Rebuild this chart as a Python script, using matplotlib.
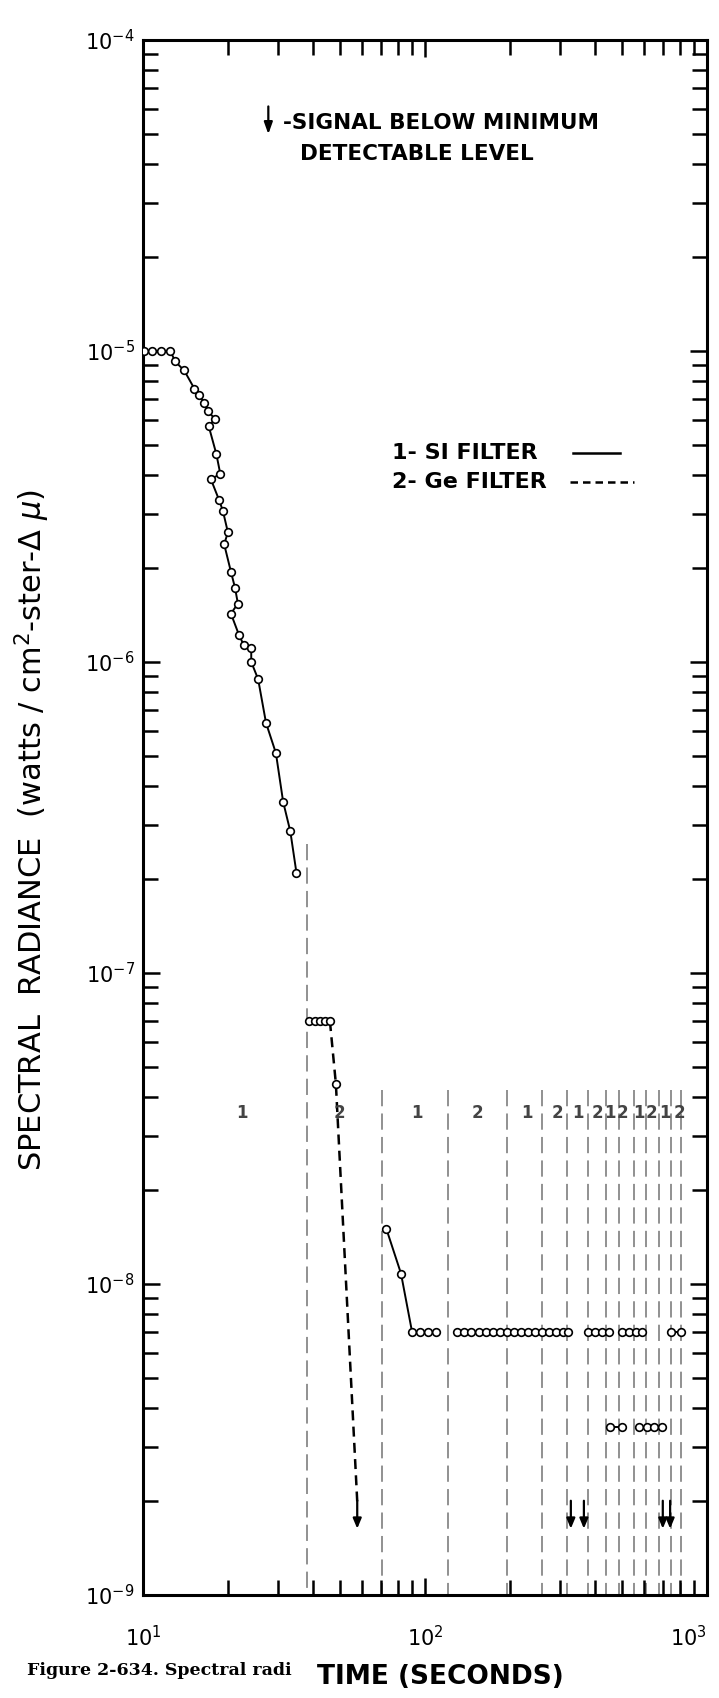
import matplotlib
matplotlib.use("Agg")
import matplotlib.pyplot as plt
from matplotlib.ticker import LogLocator, NullFormatter

# Si filter, first run (time s, radiance)
si1_t = [10.1, 10.8, 11.6, 12.5, 13.0, 14.0, 15.2, 15.8, 16.5, 17.0, 18.0, 17.1,
         18.2, 18.8, 17.4, 18.6, 19.2, 20.0, 19.4, 20.5, 21.2, 21.7, 20.5, 21.9,
         22.8, 24.2, 24.2, 25.6, 27.3, 29.6, 31.4, 33.3, 35.0]
si1_v = [1.0e-5, 1.0e-5, 1.0e-5, 1.0e-5, 9.25e-6, 8.65e-6, 7.57e-6, 7.23e-6,
         6.8e-6, 6.4e-6, 6.04e-6, 5.73e-6, 4.66e-6, 4.02e-6, 3.87e-6, 3.32e-6,
         3.06e-6, 2.61e-6, 2.39e-6, 1.95e-6, 1.73e-6, 1.54e-6, 1.43e-6, 1.22e-6,
         1.13e-6, 1.11e-6, 1.0e-6, 8.8e-7, 6.37e-7, 5.09e-7, 3.55e-7, 2.85e-7, 2.1e-7]

# Ge filter, first run
ge1_t = [38.9, 40.6, 42.3, 44.1, 46.0]
ge1_v = [7e-8, 7e-8, 7e-8, 7e-8, 7e-8]
ge_drop_t = [46.0, 48.3, 57.5]
ge_drop_v = [7e-8, 4.4e-8, 2.0e-9]
ge_pt_t = [48.3]
ge_pt_v = [4.4e-8]

# Si filter, second run
si2_t = [73.0, 82.2, 90.0, 96.0, 102.5, 109.4]
si2_v = [1.5e-8, 1.08e-8, 7e-9, 7e-9, 7e-9, 7e-9]

# points sitting on the detection floor
floor_groups = [
    [130, 138, 146, 155, 164, 174, 184, 195, 207, 219, 232, 246, 260, 276, 292, 309, 322],
    [378, 400, 424, 449],
    [500, 530, 561, 590],
    [748, 812],
]
floor_v = 7e-9
low_groups = [[452, 500], [575, 612, 650, 690]]
low_v = 3.47e-9

# below-minimum arrows
arrow_t = [57.5, 329, 366, 697, 740]
arrow_top = 2.05e-9
arrow_tip = 1.6e-9

# filter change boundaries
bound_t = [38, 70.6, 121, 196, 261, 320, 377, 440, 489, 553, 610, 678, 748, 811]
bound_top = [2.6e-7, 4.2e-8, 4.2e-8, 4.2e-8, 4.2e-8, 4.2e-8, 4.2e-8, 4.2e-8,
             4.2e-8, 4.2e-8, 4.2e-8, 4.2e-8, 4.2e-8, 4.2e-8]

seg_t = [22.5, 49.8, 94, 153, 229, 295, 348, 409, 451, 502, 576, 636, 707, 799]
seg_s = ['1', '2', '1', '2', '1', '2', '1', '2', '1', '2', '1', '2', '1', '2']
seg_v = 3.55e-8

x_ticks = [10, 100, 1000]
x_labels = [r'$10^{1}$', r'$10^{2}$', r'$10^{3}$']

fig = plt.figure(figsize=(7.19, 16.98), dpi=100)
ax = fig.add_axes([0.1989, 0.0607, 0.7844, 0.9158])
ax.set_xscale('log')
ax.set_yscale('log')
ax.set_xlim(10, 1000)
ax.set_ylim(1e-9, 1e-4)

mk = dict(marker='o', ms=5.5, mfc='white', mec='black', mew=1.2)

for t, top in zip(bound_t, bound_top):
    ax.plot([t, t], [top, 1e-9], color='#888888', lw=1.3, ls=(0, (9, 4)), zorder=1)

ax.plot(si1_t, si1_v, color='black', lw=1.4, **mk, zorder=3)
ax.plot(ge1_t, ge1_v, color='black', lw=1.4, **mk, zorder=3)
ax.plot(ge_drop_t, ge_drop_v, color='black', lw=1.8, ls=(0, (4, 2.5)), zorder=2)
ax.plot(ge_pt_t, ge_pt_v, ls='none', **mk, zorder=3)
ax.plot(si2_t, si2_v, color='black', lw=1.4, **mk, zorder=3)
for g in floor_groups:
    ax.plot(g, [floor_v] * len(g), color='black', lw=1.4, **mk, zorder=3)
for g in low_groups:
    ax.plot(g, [low_v] * len(g), color='black', lw=1.4, **mk, zorder=3)

for t in arrow_t:
    ax.annotate('', xy=(t, arrow_tip), xytext=(t, arrow_top),
                arrowprops=dict(arrowstyle='-|>,head_width=0.25,head_length=0.6',
                                color='black', lw=1.6))

for t, s in zip(seg_t, seg_s):
    ax.text(t, seg_v, s, ha='center', va='center', fontsize=12, color='#444444',
            fontweight='bold')

# legend block
ax.text(0.4406, 0.7344, '1- SI FILTER', transform=ax.transAxes, fontsize=16,
        fontweight='bold', va='center', ha='left')
ax.text(0.4406, 0.7158, '2- Ge FILTER', transform=ax.transAxes, fontsize=16,
        fontweight='bold', va='center', ha='left')
ax.plot([0.762, 0.845], [0.7344, 0.7344], transform=ax.transAxes, color='black', lw=1.8)
ax.plot([0.757, 0.870], [0.7158, 0.7158], transform=ax.transAxes, color='black',
        lw=1.8, ls=(0, (3, 2)))

ax.annotate('', xy=(0.2222, 0.9376), xytext=(0.2222, 0.959), xycoords='axes fraction',
            arrowprops=dict(arrowstyle='-|>,head_width=0.25,head_length=0.7',
                            color='black', lw=1.6))
ax.text(0.2488, 0.9466, '-SIGNAL BELOW MINIMUM', transform=ax.transAxes, fontsize=15.5,
        fontweight='bold', va='center', ha='left')
ax.text(0.2789, 0.9267, 'DETECTABLE LEVEL', transform=ax.transAxes, fontsize=15.5,
        fontweight='bold', va='center', ha='left')

ax.set_xticks(x_ticks, x_labels)
ax.xaxis.set_minor_locator(LogLocator(base=10, subs=range(2, 10)))
ax.xaxis.set_minor_formatter(NullFormatter())
ax.get_xticklabels()[-1].set_horizontalalignment('right')
ax.yaxis.set_major_locator(LogLocator(base=10))
ax.yaxis.set_minor_locator(LogLocator(base=10, subs=range(2, 10), numticks=20))
ax.yaxis.set_minor_formatter(NullFormatter())

ax.tick_params(which='both', direction='in', top=True, right=True, width=1.8)
ax.tick_params(which='major', length=12)
ax.tick_params(which='minor', length=11)
ax.tick_params(axis='x', which='major', pad=22, labelsize=15)
ax.tick_params(axis='y', which='major', pad=6, labelsize=15)
for sp in ax.spines.values():
    sp.set_linewidth(2.2)

fig.text(0.0445, 0.5112, r'SPECTRAL  RADIANCE  (watts / cm$^2$-ster-$\Delta$ $\mu$)',
         rotation=90, ha='center', va='center', fontsize=22)
fig.text(0.612, 0.0124, 'TIME (SECONDS)', ha='center', va='center', fontsize=19,
         fontweight='bold')
fig.text(0.0375, 0.011, 'Figure 2-634. Spectral radi', ha='left', va='bottom',
         fontsize=12.5, family='DejaVu Serif', fontweight='bold')

fig.savefig('out.png', dpi=100)
